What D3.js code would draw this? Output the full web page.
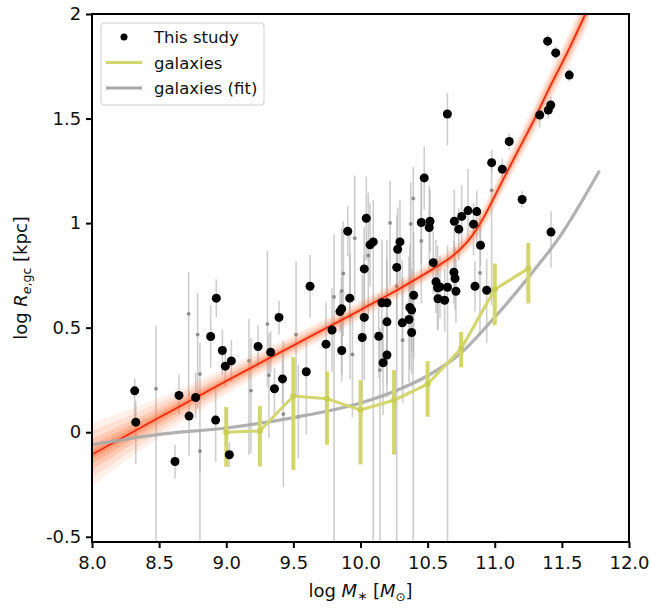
<!DOCTYPE html>
<html><head><meta charset="utf-8">
<script src="https://cdn.jsdelivr.net/npm/d3@7"></script>
<style>body{margin:0;background:#fff} text{font-family:"DejaVu Sans",sans-serif;}</style>
</head><body><svg id="c" width="650" height="608"></svg>
<script>
// ---- This study (black points) ----
const studyX=[8.318,8.326,8.618,8.648,8.723,8.772,8.921,9.023,8.993,9.038,8.971,8.926,8.884,9.237,9.331,9.393,9.419,9.359,9.596,9.624,9.743,9.788,9.860,9.860,9.847,9.920,9.905,10.043,10.071,10.095,10.028,10.028,10.013,10.136,10.197,10.197,10.168,10.160,10.197,10.311,10.361,10.381,10.367,10.381,10.396,10.294,10.277,10.270,10.475,10.453,10.518,10.512,10.542,10.562,10.574,10.592,10.648,10.711,10.577,10.627,10.696,10.704,10.699,10.754,10.801,10.866,10.732,10.842,10.894,10.853,10.940,10.977,11.056,11.204,11.419,11.108,10.647,11.335,11.399,11.417,11.394,11.454,11.555];
const studyY=[0.198,0.048,-0.140,0.176,0.077,0.166,0.058,-0.108,0.316,0.341,0.391,0.641,0.458,0.410,0.383,0.549,0.255,0.208,0.289,0.698,0.421,0.489,0.391,0.590,0.577,0.641,0.961,1.023,0.896,0.910,0.781,0.549,0.453,0.459,0.528,0.369,0.332,0.619,0.619,0.523,0.539,0.477,0.597,0.584,0.655,0.910,0.875,0.788,1.216,1.003,1.009,0.979,0.811,0.719,0.691,0.695,0.693,0.674,0.638,0.631,0.765,0.735,1.009,1.032,1.060,1.055,0.971,0.995,0.894,0.698,0.679,1.289,1.258,1.113,0.957,1.390,1.522,1.517,1.541,1.565,1.870,1.814,1.708];
const studyErrLo=[0.15,0.2,0.08,0.09,0.19,0.1,0.2,0.06,0.1,0.1,0.12,0.09,0.15,0.1,0.1,0.08,0.12,0.12,0.3,0.15,0.2,0.2,0.15,0.2,0.1,0.1,0.12,0.2,0.2,1.5,0.2,0.3,0.3,0.2,0.3,0.2,0.25,0.3,0.3,0.3,0.3,0.2,0.3,0.2,0.3,0.2,0.2,0.25,0.15,0.2,0.15,0.2,0.15,0.15,0.2,0.15,1.5,0.15,0.15,0.15,0.15,0.15,0.15,0.15,0.15,0.15,0.15,0.15,0.1,0.12,0.25,0.05,0.05,0.04,0.17,0.04,0.15,0.06,0.04,0.04,0.03,0.03,0.03];
const studyErrHi=[0.06,0.1,0.08,0.1,0.12,0.12,0.16,0.06,0.1,0.1,0.1,0.09,0.15,0.1,0.1,0.08,0.12,0.1,0.15,0.15,0.2,0.2,0.15,0.15,0.1,0.3,0.12,0.2,0.2,0.2,0.2,0.3,0.3,0.2,0.3,0.2,0.2,0.3,0.3,0.3,0.3,0.2,0.3,0.2,0.3,0.2,0.2,0.25,0.15,0.2,0.15,0.2,0.15,0.2,0.2,0.15,0.2,0.15,0.15,0.15,0.15,0.15,0.15,0.15,0.2,0.1,0.1,0.1,0.1,0.12,0.15,0.06,0.05,0.04,0.1,0.04,0.1,0.03,0.04,0.04,0.03,0.03,0.03];
// ---- second sample (small grey points) ----
const otherX=[8.477,8.720,8.787,8.804,8.804,9.169,9.184,9.307,9.318,9.425,9.520,9.537,9.872,9.860,9.803,9.922,9.957,10.058,9.940,10.145,10.220,10.374,10.393,10.314,10.453,10.977,10.270,10.890];
const otherY=[0.208,0.566,0.467,0.278,-0.090,0.341,0.199,0.517,0.273,0.087,0.467,0.074,0.759,0.676,0.647,0.555,0.928,0.845,0.372,0.297,1.001,0.996,1.118,0.440,0.915,1.157,0.698,0.762];
const otherErrLo=[1.0,0.4,0.35,1.0,0.1,0.45,0.3,0.3,0.3,0.35,0.3,0.2,0.3,0.4,1.3,0.3,0.3,0.3,0.3,1.0,0.3,0.4,1.8,0.3,0.3,0.55,1.4,0.3];
const otherErrHi=[0.3,0.2,0.2,0.15,0.1,0.2,0.25,0.35,0.2,0.35,0.35,0.25,0.25,0.3,0.3,0.3,0.3,0.3,0.2,0.2,0.2,0.2,0.15,0.3,0.3,0.15,0.2,0.3];
// ---- galaxies (binned) ----
const galX=[9.0,9.25,9.5,9.75,10.0,10.25,10.5,10.75,11.0,11.25];
const galY=[0.0,0.006,0.173,0.160,0.106,0.153,0.230,0.400,0.683,0.783];
const galErrLo=[0.165,0.17,0.354,0.22,0.26,0.26,0.156,0.09,0.171,0.167];
const galErrHi=[0.12,0.12,0.186,0.13,0.143,0.144,0.11,0.08,0.124,0.122];
// ---- galaxies (fit) ----
const galFitX=[8.0,8.5,9.0,9.5,10.0,10.25,10.5,10.75,11.0,11.25,11.5,11.78];
const galFitY=[-0.06,-0.01,0.02,0.07,0.14,0.195,0.27,0.38,0.55,0.74,0.95,1.25];
// ---- this study fit (red) and its posterior spread ----
const fitX=[8.0,8.5,9.0,9.5,10.0,10.3,10.55,10.7,10.82,10.92,11.04,11.16,11.29,11.41,11.54,11.65,11.7];
const fitY=[-0.106,0.07,0.245,0.415,0.585,0.69,0.785,0.85,0.93,1.03,1.18,1.33,1.49,1.65,1.815,1.965,2.035];
const fitSpread=[0.15,0.095,0.065,0.05,0.045,0.042,0.042,0.045,0.05,0.055,0.06,0.065,0.07,0.075,0.08,0.085,0.085];
// ---- ticks ----
const xTicks=[8.0,8.5,9.0,9.5,10.0,10.5,11.0,11.5,12.0];
const xTickLabels=["8.0","8.5","9.0","9.5","10.0","10.5","11.0","11.5","12.0"];
const yTicks=[-0.5,0,0.5,1,1.5,2];
const yTickLabels=["-0.5","0","0.5","1","1.5","2"];

const L=92,R=629,T=14,B=542;
const svg=d3.select("#c");
const x=d3.scaleLinear().domain([8,12]).range([L,R]);
const y=d3.scaleLinear().domain([-0.525,2]).range([B,T]);

svg.append("defs").append("clipPath").attr("id","clip").append("rect")
  .attr("x",L).attr("y",T).attr("width",R-L).attr("height",B-T);
const g=svg.append("g").attr("clip-path","url(#clip)");

// error bars
const studyPts=studyX.map((v,i)=>({x:v,y:studyY[i],lo:studyErrLo[i],hi:studyErrHi[i]}));
const otherPts=otherX.map((v,i)=>({x:v,y:otherY[i],lo:otherErrLo[i],hi:otherErrHi[i]}));
g.selectAll("line.eo").data(otherPts).join("line")
  .attr("x1",d=>x(d.x)).attr("x2",d=>x(d.x))
  .attr("y1",d=>y(d.y-d.lo)).attr("y2",d=>y(d.y+d.hi))
  .attr("stroke","#b4b4b4").attr("stroke-width",1.6).attr("stroke-opacity",0.65);
g.selectAll("line.es").data(studyPts).join("line")
  .attr("x1",d=>x(d.x)).attr("x2",d=>x(d.x))
  .attr("y1",d=>y(d.y-d.lo)).attr("y2",d=>y(d.y+d.hi))
  .attr("stroke","#b4b4b4").attr("stroke-width",1.6).attr("stroke-opacity",0.65);
g.selectAll("circle.o").data(otherPts).join("circle")
  .attr("cx",d=>x(d.x)).attr("cy",d=>y(d.y)).attr("r",1.9).attr("fill","#777").attr("fill-opacity",0.8);

// posterior band
const fitPts=fitX.map((v,i)=>({x:v,y:fitY[i],s:fitSpread[i]}));
[[1.0,0.10],[0.75,0.13],[0.5,0.18],[0.3,0.25],[0.15,0.3]].forEach(([k,op])=>{
  g.append("path").datum(fitPts)
   .attr("d",d3.area().x(d=>x(d.x)).y0(d=>y(d.y-k*d.s)).y1(d=>y(d.y+k*d.s)).curve(d3.curveMonotoneX))
   .attr("fill","#ff6a30").attr("fill-opacity",op);
});
g.append("path").datum(fitPts)
 .attr("d",d3.line().x(d=>x(d.x)).y(d=>y(d.y)).curve(d3.curveMonotoneX))
 .attr("fill","none").attr("stroke","#ee2a10").attr("stroke-width",1.7);

// galaxies fit
g.append("path").datum(galFitX.map((v,i)=>[v,galFitY[i]]))
 .attr("d",d3.line().x(d=>x(d[0])).y(d=>y(d[1])).curve(d3.curveMonotoneX))
 .attr("fill","none").attr("stroke","#a8a8a8").attr("stroke-width",3.2).attr("stroke-opacity",0.9);

// galaxies binned
const gal=galX.map((v,i)=>({x:v,y:galY[i],lo:galErrLo[i],hi:galErrHi[i]}));
const yc="#d3d66c";
g.selectAll("line.eg").data(gal).join("line")
  .attr("x1",d=>x(d.x)).attr("x2",d=>x(d.x))
  .attr("y1",d=>y(d.y-d.lo)).attr("y2",d=>y(d.y+d.hi))
  .attr("stroke",yc).attr("stroke-width",4);
g.append("path").datum(gal)
 .attr("d",d3.line().x(d=>x(d.x)).y(d=>y(d.y)))
 .attr("fill","none").attr("stroke",yc).attr("stroke-width",3);
g.selectAll("circle.g").data(gal).join("circle")
  .attr("cx",d=>x(d.x)).attr("cy",d=>y(d.y)).attr("r",3).attr("fill","#c9cd55");

// study points
g.selectAll("circle.s").data(studyPts).join("circle")
  .attr("cx",d=>x(d.x)).attr("cy",d=>y(d.y)).attr("r",4.5).attr("fill","#000");

// axes
const xa=svg.append("g").attr("transform",`translate(0,${B})`)
  .call(d3.axisBottom(x).tickValues(xTicks).tickFormat((d,i)=>xTickLabels[i]).tickSize(6).tickSizeOuter(0));
const ya=svg.append("g").attr("transform",`translate(${L},0)`)
  .call(d3.axisLeft(y).tickValues(yTicks).tickFormat((d,i)=>yTickLabels[i]).tickSize(6).tickSizeOuter(0));
[xa,ya].forEach(a=>{
  a.selectAll("line").attr("stroke","#000").attr("stroke-width",2);
  a.select(".domain").remove();
  a.selectAll("text").attr("font-size",18).attr("fill","#111").attr("font-family","DejaVu Sans");
});
xa.selectAll("text").attr("dy","1.0em");
ya.selectAll("text").attr("dx","-0.1em");
svg.append("rect").attr("x",L).attr("y",T).attr("width",R-L).attr("height",B-T)
  .attr("fill","none").attr("stroke","#000").attr("stroke-width",2);

// axis labels
const xl=svg.append("text").attr("x",(L+R)/2).attr("y",597).attr("text-anchor","middle").attr("font-size",18).attr("fill","#111");
xl.append("tspan").text("log ");
xl.append("tspan").attr("font-style","italic").text("M");
xl.append("tspan").attr("font-size",12).attr("dy",3).text("∗");
xl.append("tspan").attr("dy",-3).text("  [");
xl.append("tspan").attr("font-style","italic").text("M");
xl.append("tspan").attr("font-size",12).attr("dy",4).text("⊙");
xl.append("tspan").attr("dy",-4).text("]");

const yl=svg.append("text").attr("transform",`translate(27,${(T+B)/2}) rotate(-90)`).attr("text-anchor","middle").attr("font-size",18).attr("fill","#111");
yl.append("tspan").text("log ");
yl.append("tspan").attr("font-style","italic").text("R");
yl.append("tspan").attr("font-size",12.5).attr("dy",4).attr("font-style","italic").text("e");
yl.append("tspan").attr("font-size",12.5).text(",gc");
yl.append("tspan").attr("dy",-4).text(" [kpc]");

// legend
const lg=svg.append("g");
lg.append("rect").attr("x",101).attr("y",23).attr("width",163).attr("height",82).attr("rx",3)
  .attr("fill","#fff").attr("fill-opacity",0.85).attr("stroke","#d0d0d0").attr("stroke-width",1);
lg.append("circle").attr("cx",124).attr("cy",37).attr("r",3.5).attr("fill","#000");
lg.append("line").attr("x1",106).attr("x2",142).attr("y1",62.5).attr("y2",62.5).attr("stroke",yc).attr("stroke-width",3);
lg.append("line").attr("x1",106).attr("x2",142).attr("y1",88).attr("y2",88).attr("stroke","#a8a8a8").attr("stroke-width",3);
[["This study",37],["galaxies",62.5],["galaxies (fit)",88]].forEach(([t,yy])=>{
  lg.append("text").attr("x",154).attr("y",yy+6).attr("font-size",16.5).attr("fill","#111").text(t);
});
</script></body></html>
